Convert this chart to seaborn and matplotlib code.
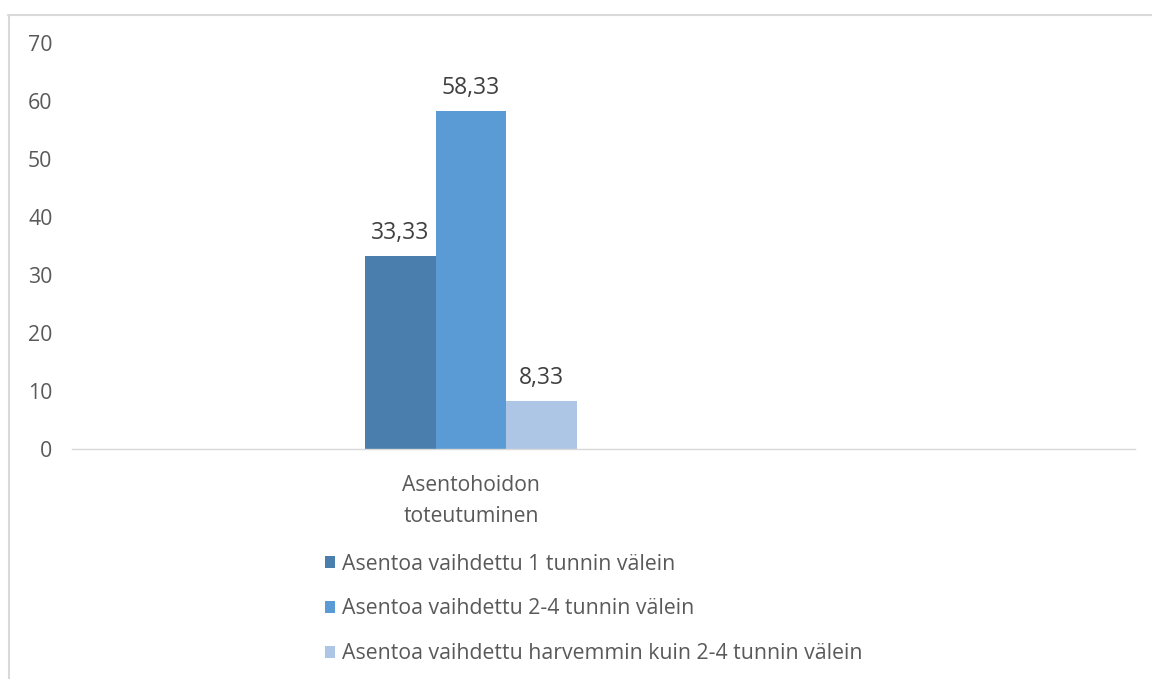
import matplotlib
matplotlib.use("Agg")
import matplotlib.pyplot as plt
from matplotlib.lines import Line2D
import seaborn as sns
import pandas as pd

category = ["Asentohoidon\ntoteutuminen"]
series = [
    "Asentoa vaihdettu 1 tunnin välein",
    "Asentoa vaihdettu 2-4 tunnin välein",
    "Asentoa vaihdettu harvemmin kuin 2-4 tunnin välein",
]
values = [33.33, 58.33, 8.33]
colors = ["#4a7ead", "#5b9bd5", "#adc6e5"]
yticks = [0, 10, 20, 30, 40, 50, 60, 70]

sns.set_theme(style="white")
plt.rcParams["font.family"] = ["Open Sans", "DejaVu Sans"]

df = pd.DataFrame({
    "kategoria": category * len(series),
    "sarja": series,
    "arvo": values,
})

W, H = 1152, 679
fig = plt.figure(figsize=(W / 100, H / 100), dpi=100)
ax = fig.add_axes([72 / W, 1 - 449 / H, (1135 - 72) / W, (449 - 43) / H])

sns.barplot(data=df, x="kategoria", y="arvo", hue="sarja", palette=colors,
            width=0.8, saturation=1, ax=ax, errorbar=None, linewidth=0)

for cont, v in zip(ax.containers, values):
    ax.bar_label(cont, labels=[f"{v:.2f}".replace(".", ",")], padding=8,
                 fontsize=16.5, color="#404040")

ax.set_ylim(0, 70)
ax.set_yticks(yticks)
ax.set_yticklabels([str(t) for t in yticks], fontsize=15.3, color="#595959")
ax.set_xlim(-1.506, 2.506)
ax.tick_params(axis="y", length=0, pad=14)
ax.tick_params(axis="x", length=0, pad=19, labelsize=15.2, labelcolor="#595959")
for lbl in ax.get_xticklabels():
    lbl.set_linespacing(1.58)
ax.set_xlabel("")
ax.set_ylabel("")
for s in ["top", "right", "left"]:
    ax.spines[s].set_visible(False)
ax.spines["bottom"].set_color("#d9d9d9")
ax.spines["bottom"].set_linewidth(1)

sns.move_legend(ax, loc="upper left", bbox_to_anchor=(314 / W, 1 - 543 / H),
                bbox_transform=fig.transFigure, ncol=1, frameon=False, title=None,
                fontsize=15.3, labelspacing=1.12, handlelength=0.5, handleheight=0.5,
                handletextpad=0.3, borderpad=0)
for t in ax.get_legend().get_texts():
    t.set_color("#595959")

# chart area border (top and left edges)
fig.add_artist(Line2D([8 / W, 1], [1 - 15 / H, 1 - 15 / H], transform=fig.transFigure,
                      color="#d9d9d9", lw=1.5))
fig.add_artist(Line2D([9 / W, 9 / W], [1 - 15 / H, 0], transform=fig.transFigure,
                      color="#d9d9d9", lw=1.5))

fig.savefig("out.png", dpi=100, facecolor="white")
